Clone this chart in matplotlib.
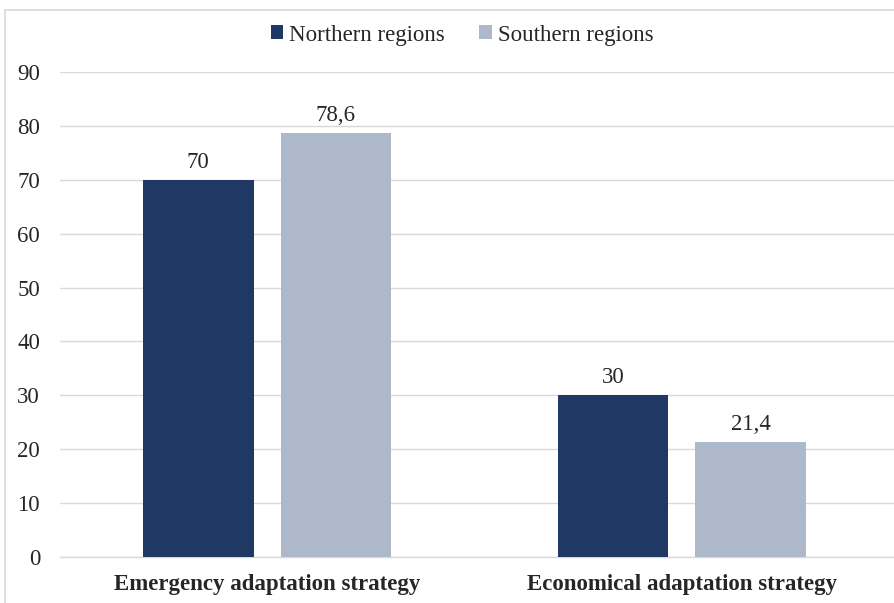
import matplotlib
matplotlib.use("Agg")
import matplotlib.pyplot as plt
from matplotlib.patches import Rectangle
import numpy as np

categories = ["Emergency adaptation strategy", "Economical adaptation strategy"]
series_names = ["Northern regions", "Southern regions"]
northern = [70, 30]
southern = [78.6, 21.4]
northern_labels = ["70", "30"]
southern_labels = ["78,6", "21,4"]
yticks = [0, 10, 20, 30, 40, 50, 60, 70, 80, 90]

plt.rcParams['font.family'] = ['Liberation Serif', 'DejaVu Serif']

W, H = 894, 603
FS = 16.5
fig = plt.figure(figsize=(W/100, H/100), dpi=100)
# outer chart border
fig.patches.append(Rectangle((5/W, -0.1), 1.2, 1 - 10/H + 0.1, transform=fig.transFigure,
                             fill=False, edgecolor="#D9D9D9", linewidth=1.2))

ax = fig.add_axes([60/W, 1 - 557/H, (894-60)/W, (557-72)/H])
x = np.arange(len(categories))
w = 0.267
off = 0.166
c1, c2 = "#203864", "#ADB9CA"
b1 = ax.bar(x - off, northern, w, color=c1, label=series_names[0], zorder=3)
b2 = ax.bar(x + off, southern, w, color=c2, label=series_names[1], zorder=3)
for bars, labs in ((b1, northern_labels), (b2, southern_labels)):
    for r, t in zip(bars, labs):
        ax.text(r.get_x() + r.get_width()/2, r.get_height() + 1.3, t,
                ha="center", va="bottom", fontsize=FS, color="#262626")

ax.set_ylim(0, 90)
ax.set_xlim(-0.499, 1.511)
ax.set_yticks(yticks)
ax.set_yticklabels([str(v) for v in yticks], fontsize=FS, color="#262626")
ax.set_xticks(x)
ax.set_xticklabels(categories, fontsize=FS, fontweight="bold", color="#262626")
ax.tick_params(axis="both", length=0)
ax.tick_params(axis="y", pad=14.4)
ax.tick_params(axis="x", pad=12)
ax.grid(axis="y", color="#D9D9D9", linewidth=1, zorder=0)
for s in ("top", "right", "left"):
    ax.spines[s].set_visible(False)
ax.spines["bottom"].set_color("#D9D9D9")
ax.spines["bottom"].set_linewidth(1)

leg = fig.legend(handles=[b1, b2], labels=series_names, loc="center",
                 bbox_to_anchor=(462/W, 1 - 35/H), ncol=2, frameon=False,
                 fontsize=FS, handlelength=0.55, handleheight=0.55,
                 handletextpad=0.25, columnspacing=1.5)
for t in leg.get_texts():
    t.set_color("#262626")

fig.savefig("out.png", dpi=100)
